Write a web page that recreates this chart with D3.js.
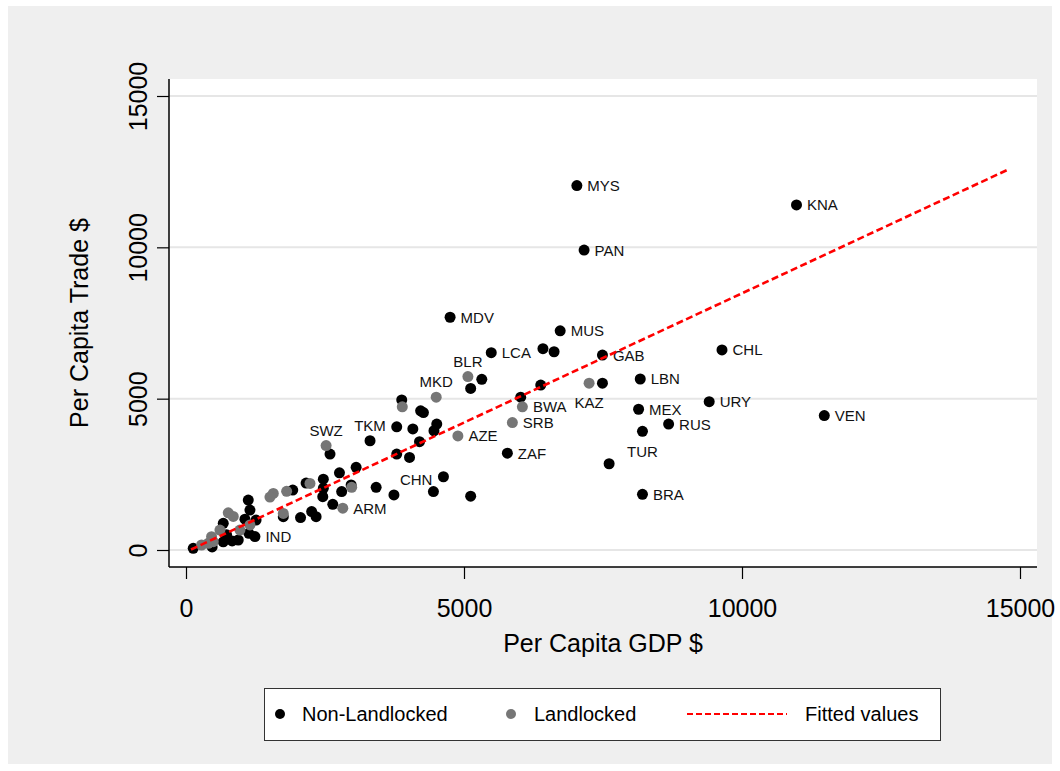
<!DOCTYPE html>
<html>
<head>
<meta charset="utf-8">
<script src="https://cdn.jsdelivr.net/npm/d3@7"></script>
<style>
    body { margin: 0; background: #fff; }
    text { font-family: "Liberation Sans", Arial, Helvetica, sans-serif; }
</style>
</head>
<body>
<script>
// non-landlocked countries
const gdpNon = [7030, 7160, 10980, 4750, 6730, 5490, 7490, 9640, 8170, 8140, 9410, 11480, 8680, 5780, 7610, 8210, 3310, 4630, 1240,
    6420, 6620, 5320, 5120, 7490, 6380, 6020, 8210, 3880, 4220, 4270, 4510, 4460, 4080, 3790, 4200, 3790, 4020, 2590, 3060,
    2760, 2470, 1920, 2470, 2460, 2800, 2970, 3420, 3740, 4450, 5120, 2640, 2260, 2340, 2060, 1750, 2160, 1120, 1150, 670,
    730, 670, 940, 1130, 130, 1060, 1260, 470, 830]
const tradeNon = [12040, 9910, 11400, 7690, 7240, 6520, 6440, 6610, 5650, 4650, 4900, 4440, 4160, 3200, 2850, 1840, 3610, 2420, 445,
    6650, 6550, 5640, 5340, 5510, 5450, 5050, 3920, 4960, 4600, 4540, 4160, 3940, 4000, 4070, 3580, 3170, 3060, 3170, 2730,
    2550, 2340, 1980, 2040, 1760, 1930, 2150, 2070, 1820, 1930, 1780, 1510, 1270, 1100, 1070, 1100, 2210, 1650, 1320, 880,
    500, 270, 330, 550, 55, 1020, 990, 100, 300]
const codeNon = ["MYS", "PAN", "KNA", "MDV", "MUS", "LCA", "GAB", "CHL", "LBN", "MEX", "URY", "VEN", "RUS", "ZAF", "TUR", "BRA", "TKM", "CHN", "IND"]

// landlocked countries
const gdpLand = [5070, 4500, 7250, 6050, 5870, 4890, 2520, 2820, 3890, 2230, 2980, 1810, 1570, 1510, 1750, 760, 850, 1150, 970, 610, 460, 280, 400, 490]
const tradeLand = [5730, 5050, 5510, 4730, 4210, 3770, 3450, 1380, 4730, 2200, 2070, 1940, 1870, 1750, 1210, 1230, 1110, 830, 660, 660, 440, 165, 220, 275]
const codeLand = ["BLR", "MKD", "KAZ", "BWA", "SRB", "AZE", "SWZ", "ARM"]

// fitted values
const fitGdp = [90, 14810]
const fitTrade = [15, 12590]

const xTicks = [0, 5000, 10000, 15000]
const yTicks = [0, 5000, 10000, 15000]

// clock position of the marker labels (default 3 o'clock)
const labelPos = {BLR: 12, MKD: 12, SWZ: 12, TKM: 12, KAZ: 6, TUR: 1, CHN: 9}

const width = 1060
const height = 771
const plot = {left: 169, right: 1037, top: 79, bottom: 567}
const font = '"Liberation Sans", Arial, Helvetica, sans-serif'

const x = d3.scaleLinear().domain([0, 15000]).range([186, 1020])
const y = d3.scaleLinear().domain([0, 15000]).range([550, 96])

const svg = d3.select("body").append("svg")
    .attr("width", width)
    .attr("height", height)

svg.append("rect")
    .attr("x", 8).attr("y", 6)
    .attr("width", 1044).attr("height", 758)
    .attr("fill", "#efefef")

svg.append("rect")
    .attr("x", plot.left).attr("y", plot.top)
    .attr("width", plot.right - plot.left).attr("height", plot.bottom - plot.top)
    .attr("fill", "#fff")

// grid
svg.append("g")
    .selectAll("line")
    .data(yTicks)
    .enter().append("line")
    .attr("x1", plot.left).attr("x2", plot.right)
    .attr("y1", d => y(d)).attr("y2", d => y(d))
    .attr("stroke", "#e6e6e6")
    .attr("stroke-width", 2)

// axes
const xAxis = svg.append("g")
    .attr("transform", `translate(0,${plot.bottom})`)
    .call(d3.axisBottom(x).tickValues(xTicks).tickSize(12).tickPadding(20).tickFormat(d3.format("d")))
xAxis.select(".domain").attr("d", `M${plot.left},0H${plot.right}`)

const yAxis = svg.append("g")
    .attr("transform", `translate(${plot.left},0)`)
    .call(d3.axisLeft(y).tickValues(yTicks).tickSize(12).tickFormat(d3.format("d")))
yAxis.select(".domain").attr("d", `M0,${plot.top}V${plot.bottom}`)
yAxis.selectAll(".tick text")
    .attr("x", null).attr("dy", null)
    .attr("transform", "translate(-22,0) rotate(-90)")
    .attr("text-anchor", "middle")

svg.selectAll(".domain").attr("stroke", "#000").attr("stroke-width", 1.5)
svg.selectAll(".tick line").attr("stroke", "#000").attr("stroke-width", 1.2)
svg.selectAll(".tick text")
    .attr("fill", "#000")
    .style("font-family", font)
    .style("font-size", "25px")

// axis titles
svg.append("text")
    .attr("x", (plot.left + plot.right) / 2)
    .attr("y", 652)
    .attr("text-anchor", "middle")
    .style("font-size", "25px")
    .text("Per Capita GDP $")

svg.append("text")
    .attr("transform", `translate(88,${(plot.top + plot.bottom) / 2}) rotate(-90)`)
    .attr("text-anchor", "middle")
    .style("font-size", "25px")
    .text("Per Capita Trade $")

function drawSeries(gdp, trade, codes, color) {
    const pts = gdp.map((g, i) => ({gdp: g, trade: trade[i], code: codes[i] || ""}))
    const g = svg.append("g")
    g.selectAll("circle")
        .data(pts)
        .enter().append("circle")
        .attr("cx", d => x(d.gdp))
        .attr("cy", d => y(d.trade))
        .attr("r", 5.5)
        .attr("fill", color)

    g.selectAll("text")
        .data(pts.filter(d => d.code))
        .enter().append("text")
        .attr("x", d => {
            const p = labelPos[d.code] || 3
            if (p === 12 || p === 6) return x(d.gdp)
            if (p === 1) return x(d.gdp) + 18
            if (p === 9) return x(d.gdp) - 11
            return x(d.gdp) + 10.5
        })
        .attr("y", d => {
            const p = labelPos[d.code] || 3
            if (p === 12) return y(d.trade) - 10
            if (p === 6) return y(d.trade) + 25
            if (p === 1) return y(d.trade) - 6.5
            if (p === 9) return y(d.trade) + 8.5
            return y(d.trade) + 5.5
        })
        .attr("text-anchor", d => {
            const p = labelPos[d.code] || 3
            if (p === 12 || p === 6) return "middle"
            if (p === 9) return "end"
            return "start"
        })
        .attr("fill", "#111")
        .style("font-size", "15px")
        .text(d => d.code)
}

drawSeries(gdpNon, tradeNon, codeNon, "#000")
drawSeries(gdpLand, tradeLand, codeLand, "#767676")

// fitted line
const fit = fitGdp.map((g, i) => [g, fitTrade[i]])
svg.append("path")
    .datum(fit)
    .attr("d", d3.line().x(d => x(d[0])).y(d => y(d[1])))
    .attr("fill", "none")
    .attr("stroke", "#ff0000")
    .attr("stroke-width", 2.6)
    .attr("stroke-dasharray", "7,3.5")

// legend
const legend = svg.append("g")
legend.append("rect")
    .attr("x", 264.5).attr("y", 688.5)
    .attr("width", 676).attr("height", 52)
    .attr("fill", "#fff")
    .attr("stroke", "#333")
    .attr("stroke-width", 1)

const ly = 714
legend.append("circle").attr("cx", 280).attr("cy", ly).attr("r", 5).attr("fill", "#000")
legend.append("text").attr("x", 302).attr("y", ly + 7).style("font-size", "20px").text("Non-Landlocked")
legend.append("circle").attr("cx", 511).attr("cy", ly).attr("r", 5).attr("fill", "#767676")
legend.append("text").attr("x", 534).attr("y", ly + 7).style("font-size", "20px").text("Landlocked")
legend.append("line")
    .attr("x1", 687).attr("x2", 787).attr("y1", ly).attr("y2", ly)
    .attr("stroke", "#ff0000").attr("stroke-width", 2.2)
    .attr("stroke-dasharray", "6,3")
legend.append("text").attr("x", 805).attr("y", ly + 7).style("font-size", "20px").text("Fitted values")
</script>
</body>
</html>
